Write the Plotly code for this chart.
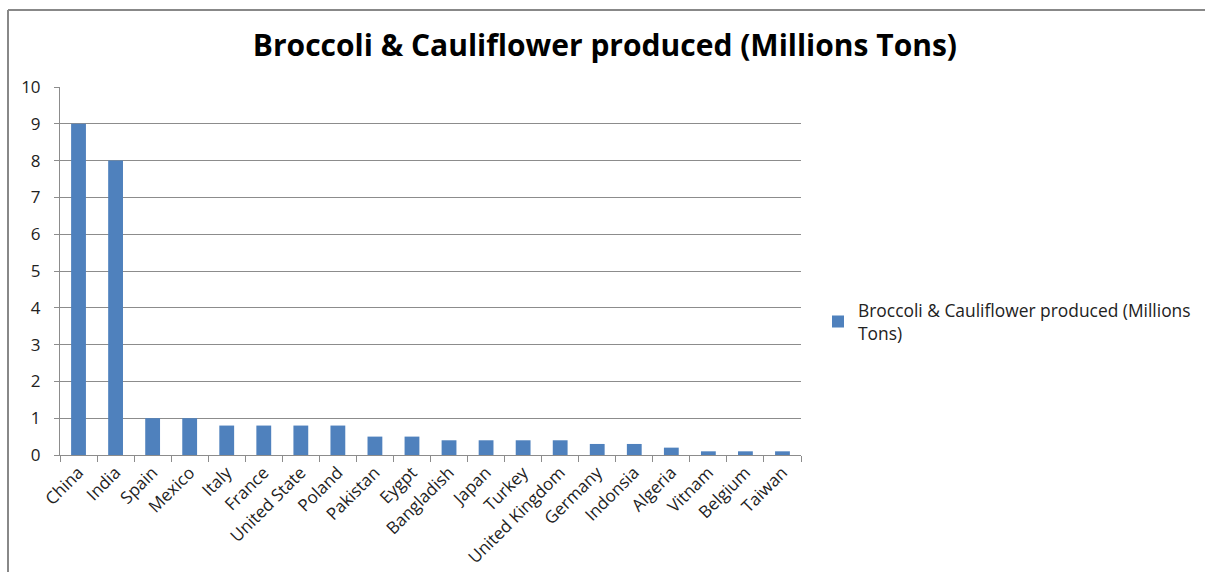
import plotly.graph_objects as go

countries = ["China", "India", "Spain", "Mexico", "Italy", "France", "United State", "Poland",
             "Pakistan", "Eygpt", "Bangladish", "Japan", "Turkey", "United Kingdom", "Germany",
             "Indonsia", "Algeria", "Vitnam", "Belgium", "Taiwan"]
production = [9, 8, 1, 1, 0.8, 0.8, 0.8, 0.8, 0.5, 0.5, 0.4, 0.4, 0.4, 0.4, 0.3, 0.3, 0.2, 0.1, 0.1, 0.1]
series_name = "Broccoli & Cauliflower produced (Millions Tons)"
y_ticks = [0, 1, 2, 3, 4, 5, 6, 7, 8, 9, 10]

W, H = 1205, 572
L, R, T, B = 60, 404, 87, 117
pw, ph = W - L - R, H - T - B

fig = go.Figure()
fig.add_trace(go.Bar(
    x=countries, y=production,
    name="Broccoli & Cauliflower produced (Millions<br>Tons)",
    marker=dict(color="#4f81bd", line=dict(width=0)),
    showlegend=True,
))

font_family = "Open Sans, Liberation Sans, sans-serif"

fig.update_layout(
    width=W, height=H,
    margin=dict(l=L, r=R, t=T, b=B, autoexpand=False),
    paper_bgcolor="white", plot_bgcolor="white",
    bargap=0.6,
    showlegend=True,
    title=dict(text="<b>" + series_name + "</b>", x=0.502, xref="container", xanchor="center",
               y=1 - 45 / H, yref="container", yanchor="middle",
               font=dict(family=font_family, size=30, color="black")),
    legend=dict(x=(818 - L) / pw, y=(455 - 322) / ph, xanchor="left", yanchor="middle",
                font=dict(family=font_family, size=17.4, color="#222"), itemwidth=30,
                bgcolor="rgba(0,0,0,0)"),
    xaxis=dict(
        type="category", tickangle=-45, ticks="outside", tickson="boundaries",
        ticklen=6, tickcolor="#8c8c8c", showline=True, linecolor="#8c8c8c", linewidth=1,
        showgrid=False, tickfont=dict(family=font_family, size=17, color="#222"),
        range=[-0.5, len(countries) - 0.5],
    ),
    yaxis=dict(
        range=[0, 10], tickvals=y_ticks, ticks="outside", ticklen=5, tickcolor="#8c8c8c",
        showline=True, linecolor="#8c8c8c", linewidth=1, ticklabelstandoff=10,
        showgrid=True, gridcolor="#8c8c8c", gridwidth=1, zeroline=False,
        tickfont=dict(family=font_family, size=17, color="#222"),
    ),
)

# Outer chart border (left and top edges)
bx = (8 - L) / pw
by = 1 + (T - 10) / ph
fig.add_shape(type="line", xref="paper", yref="paper", x0=bx, x1=bx, y0=by, y1=-(H - T - ph + 10) / ph,
              line=dict(color="#888888", width=2))
fig.add_shape(type="line", xref="paper", yref="paper", x0=bx, x1=(W + 10 - L) / pw, y0=by, y1=by,
              line=dict(color="#888888", width=2))

fig.write_html("out.html")
